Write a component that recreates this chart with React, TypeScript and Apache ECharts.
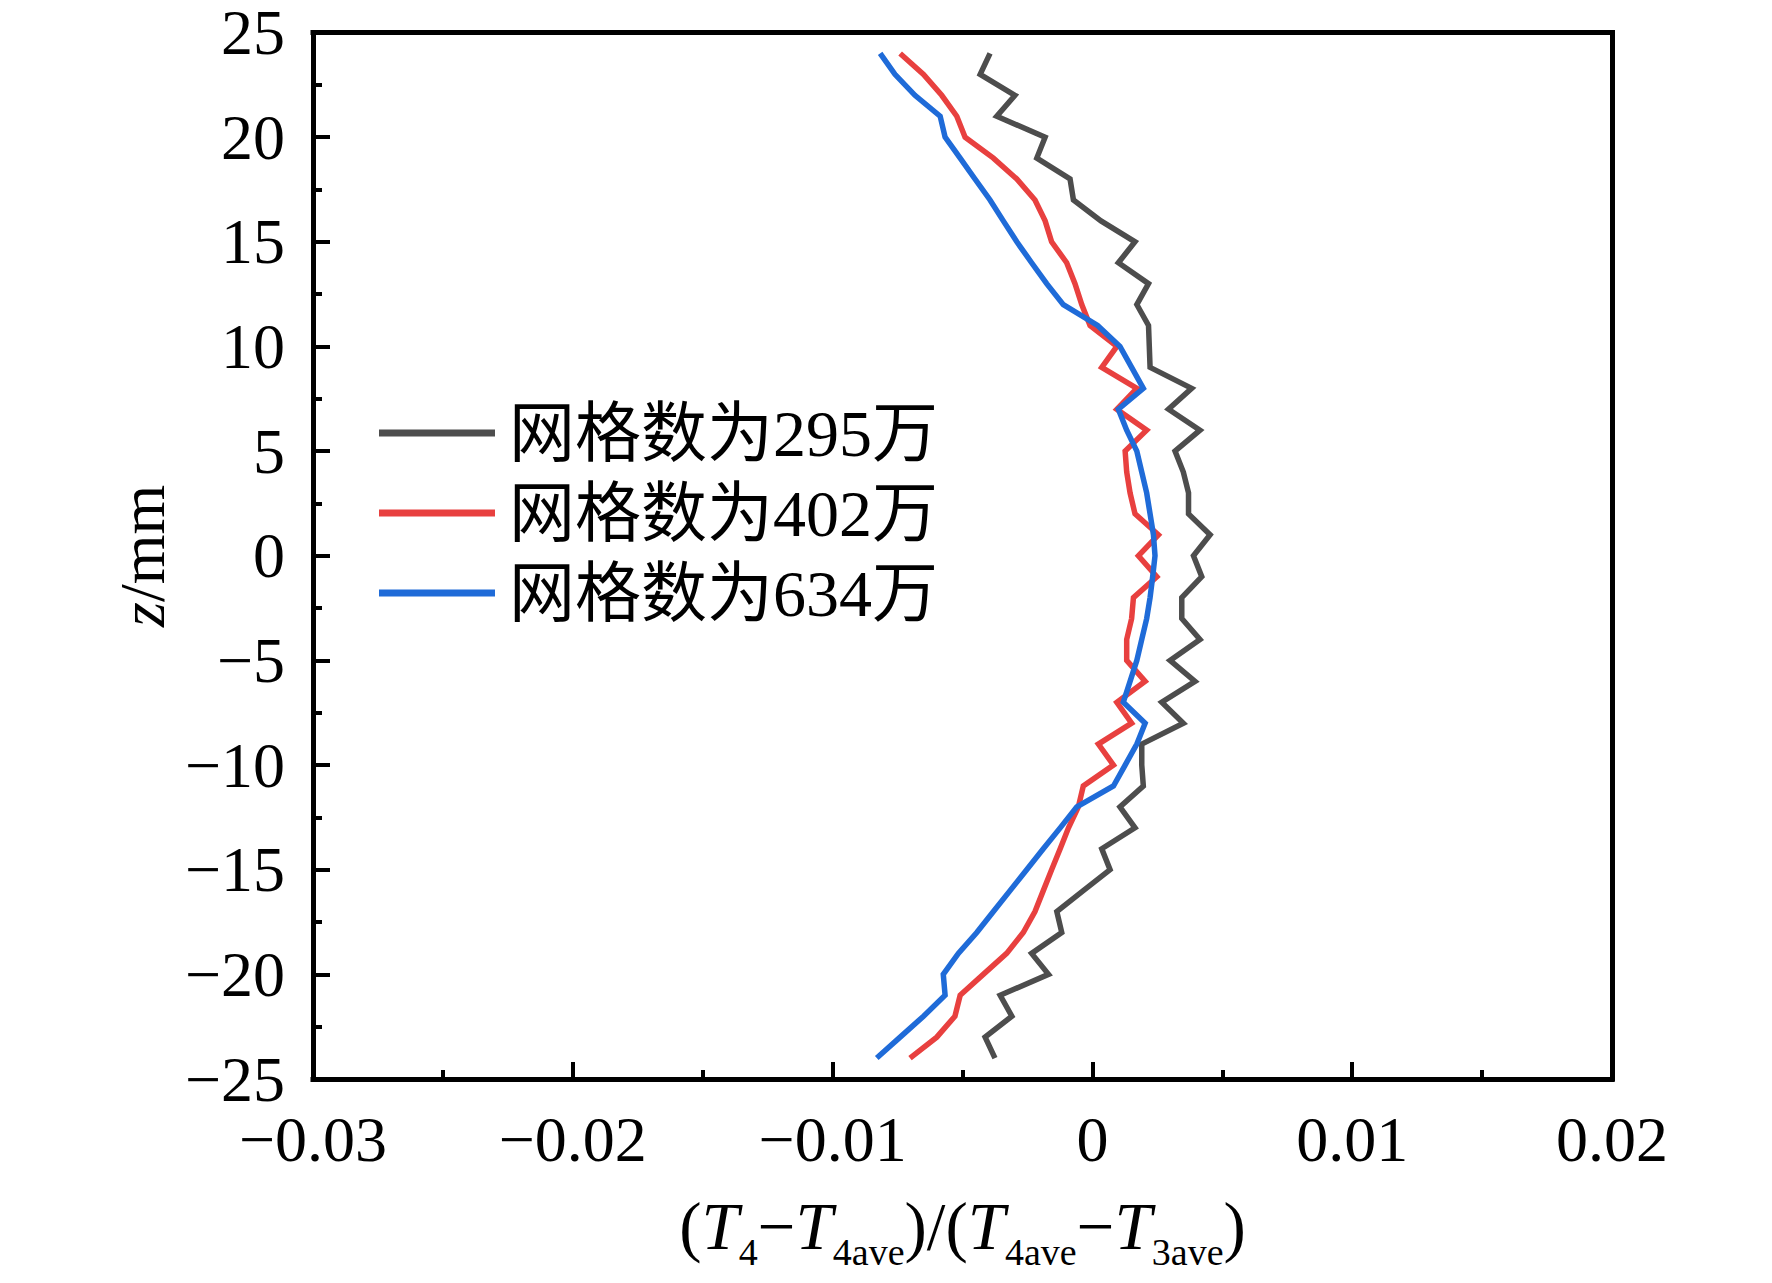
import React, { useEffect, useRef } from "react";
import * as echarts from "echarts";

const Z = [24, 23, 22, 21, 20, 19, 18, 17, 16, 15, 14, 13, 12, 11, 10, 9, 8, 7, 6, 5, 4, 3, 2, 1, 0,
  -1, -2, -3, -4, -5, -6, -7, -8, -9, -10, -11, -12, -13, -14, -15, -16, -17, -18, -19, -20, -21, -22, -23, -24];

const X295 = [-0.00394, -0.00432, -0.00298, -0.00368, -0.00182, -0.00214, -0.00086, -0.00073, 0.00033, 0.00164,
  0.001, 0.00216, 0.00171, 0.00216, 0.00219, 0.00222, 0.00382, 0.00293, 0.00414, 0.00318,
  0.0035, 0.0037, 0.0037, 0.00453, 0.00389,
  0.00421, 0.00344, 0.00344, 0.00414, 0.00299, 0.00395, 0.00267, 0.0035, 0.0019, 0.0019,
  0.00196, 0.00106, 0.00164, 0.00036, 0.00068, -0.00035, -0.00137, -0.00118, -0.00234, -0.00169,
  -0.00355, -0.0031, -0.00413, -0.00375];

const X402 = [-0.0074, -0.0065, -0.0058, -0.00522, -0.0049, -0.00381, -0.00291, -0.00221, -0.00182, -0.00157,
  -0.00099, -0.00067, -0.00041, -0.00009, 0.00094, 0.00036, 0.00171, 0.00094, 0.00209, 0.00126,
  0.00132, 0.00145, 0.00164, 0.00254, 0.00177,
  0.00248, 0.00158, 0.00151, 0.00132, 0.00132, 0.00203, 0.00094, 0.00151, 0.00023, 0.00081,
  -0.00035, -0.00054, -0.00092, -0.00124, -0.00157, -0.00189, -0.00221, -0.00266, -0.0033, -0.0042,
  -0.00509, -0.00529, -0.00599, -0.00702];

const X634 = [-0.00817, -0.0076, -0.00683, -0.00586, -0.00567, -0.00509, -0.00452, -0.00394, -0.00343, -0.00291,
  -0.00234, -0.00176, -0.00112, 0.0002, 0.00106, 0.00151, 0.00196, 0.001, 0.00132, 0.00171,
  0.0019, 0.00209, 0.00222, 0.00235, 0.00241,
  0.00232, 0.00222, 0.00209, 0.0019, 0.00171, 0.00145, 0.00119, 0.00203, 0.00171, 0.00126,
  0.00081, -0.0006, -0.00124, -0.00189, -0.00253, -0.00317, -0.00381, -0.00445, -0.00516, -0.00574,
  -0.00567, -0.0065, -0.0074, -0.0083];

const SERIES_NAMES = ["网格数为295万", "网格数为402万", "网格数为634万"];
const SERIES_VALUES = [X295, X402, X634];
const COLORS = ["#4d4d4d", "#e8403f", "#1f6bd8"];

const SERIF = "'Liberation Serif', 'Times New Roman', serif";
const LEGEND_FONT = "'Liberation Serif', 'Noto Sans CJK SC', serif";

const fmtX = (v: number) => {
  if (Math.abs(v) < 1e-9) return "0";
  return (v < 0 ? "\u2212" : "") + Math.abs(v).toFixed(2);
};
const fmtY = (v: number) => {
  const r = Math.round(v);
  if (r === 0) return "0";
  return (r < 0 ? "\u2212" : "") + Math.abs(r);
};

export default function App() {
  const ref = useRef<HTMLDivElement>(null);
  useEffect(() => {
    document.body.style.margin = "0";
    if (!ref.current) return;
    const chart = echarts.init(ref.current, undefined, { renderer: "svg" });
    const frameLine = { color: "#000", width: 5, cap: "square" as const };
    const baseAxisLabel = { fontSize: 64, lineHeight: 48, fontFamily: SERIF, color: "#000" };
    chart.setOption({
      animation: false,
      backgroundColor: "#fff",
      grid: { left: 313, right: 160, top: 32.5, bottom: 204, containLabel: false },
      legend: {
        orient: "vertical",
        left: 374,
        top: 393,
        itemWidth: 116,
        itemHeight: 7,
        itemGap: 10,
        data: SERIES_NAMES.map((name) => ({ name, icon: "rect" })),
        textStyle: {
          fontSize: 66,
          lineHeight: 70,
          fontFamily: LEGEND_FONT,
          color: "#000",
          padding: [0, 0, 0, 9],
        },
      },
      xAxis: [
        {
          type: "value",
          position: "bottom",
          min: -0.03,
          max: 0.02,
          interval: 0.01,
          name: "{p|(}{i|T}{s|4}{p|\u2212}{i|T}{s|4ave}{p|)/(}{i|T}{s|4ave}{p|\u2212}{i|T}{s|3ave}{p|)}",
          nameLocation: "middle",
          nameGap: 113,
          nameTextStyle: {
            fontSize: 67,
            fontFamily: SERIF,
            color: "#000",
            rich: {
              p: { fontSize: 67, lineHeight: 66, fontFamily: SERIF, color: "#000", verticalAlign: "top" },
              i: { fontSize: 67, lineHeight: 66, fontFamily: SERIF, fontStyle: "italic", color: "#000", verticalAlign: "top" },
              s: { fontSize: 38, lineHeight: 37, fontFamily: SERIF, color: "#000", verticalAlign: "top", padding: [41, 0, 0, 0] },
            },
          },
          axisLine: { show: true, onZero: false, lineStyle: frameLine },
          axisTick: { show: true, inside: true, length: 17, lineStyle: { color: "#000", width: 4 } },
          minorTick: { show: true, splitNumber: 2, length: 9, lineStyle: { color: "#000", width: 4 } },
          splitLine: { show: false },
          minorSplitLine: { show: false },
          axisLabel: { ...baseAxisLabel, margin: 36, formatter: fmtX },
        },
        {
          type: "value",
          position: "top",
          min: -0.03,
          max: 0.02,
          interval: 0.01,
          axisLine: { show: true, onZero: false, lineStyle: frameLine },
          axisTick: { show: false },
          axisLabel: { show: false },
          splitLine: { show: false },
        },
      ],
      yAxis: [
        {
          type: "value",
          position: "left",
          min: -25,
          max: 25,
          interval: 5,
          name: "{i|z}{n|/mm}",
          nameLocation: "middle",
          nameGap: 136,
          nameTextStyle: {
            fontSize: 64,
            fontFamily: SERIF,
            color: "#000",
            rich: {
              i: { fontSize: 64, fontFamily: SERIF, fontStyle: "italic", color: "#000" },
              n: { fontSize: 64, fontFamily: SERIF, color: "#000" },
            },
          },
          axisLine: { show: true, onZero: false, lineStyle: frameLine },
          axisTick: { show: true, inside: true, length: 17, lineStyle: { color: "#000", width: 4 } },
          minorTick: { show: true, splitNumber: 2, length: 9, lineStyle: { color: "#000", width: 4 } },
          splitLine: { show: false },
          minorSplitLine: { show: false },
          axisLabel: { ...baseAxisLabel, margin: 28, formatter: fmtY },
        },
        {
          type: "value",
          position: "right",
          min: -25,
          max: 25,
          interval: 5,
          axisLine: { show: true, onZero: false, lineStyle: frameLine },
          axisTick: { show: false },
          axisLabel: { show: false },
          splitLine: { show: false },
        },
      ],
      series: SERIES_NAMES.map((name, k) => ({
        name,
        type: "line",
        xAxisIndex: 0,
        yAxisIndex: 0,
        symbol: "none",
        data: SERIES_VALUES[k].map((x, j) => [x, Z[j]]),
        lineStyle: { color: COLORS[k], width: 5.5, join: "miter" },
        itemStyle: { color: COLORS[k] },
        z: 3 + k,
      })),
    });
    return () => chart.dispose();
  }, []);
  return <div ref={ref} style={{ width: 1772, height: 1283 }} />;
}
